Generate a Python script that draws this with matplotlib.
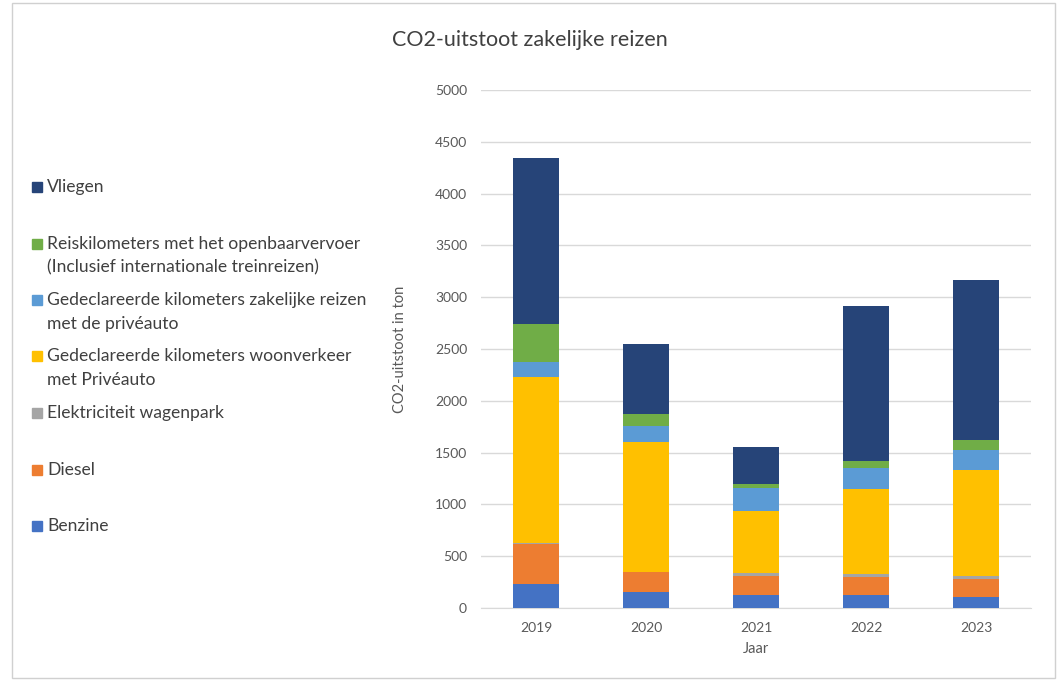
import matplotlib.pyplot as plt
from matplotlib.patches import Rectangle
import numpy as np

plt.rcParams['font.family'] = ['Lato', 'DejaVu Sans']

# data (ton CO2)
jaren = ['2019', '2020', '2021', '2022', '2023']
benzine = [232, 157, 125, 125, 103]
diesel = [390, 190, 187, 171, 177]
elektriciteit = [5, 3, 23, 32, 32]
woonverkeer = [1606, 1249, 601, 818, 1020]
zakelijk = [138, 158, 219, 208, 193]
openbaar = [370, 116, 39, 65, 97]
vliegen = [1600, 675, 357, 1496, 1544]

series = [
    ('Benzine', benzine, '#4472C4'),
    ('Diesel', diesel, '#ED7D31'),
    ('Elektriciteit wagenpark', elektriciteit, '#A5A5A5'),
    ('Gedeclareerde kilometers woonverkeer\nmet Privéauto', woonverkeer, '#FFC000'),
    ('Gedeclareerde kilometers zakelijke reizen\nmet de privéauto', zakelijk, '#5B9BD5'),
    ('Reiskilometers met het openbaarvervoer\n(Inclusief internationale treinreizen)', openbaar, '#70AD47'),
    ('Vliegen', vliegen, '#264478'),
]

W, H = 1061, 681
fig = plt.figure(figsize=(W / 100, H / 100), dpi=100)
ax = fig.add_axes([481 / W, 1 - 608 / H, (1031 - 481) / W, (608 - 90) / H])

x = np.arange(len(jaren))
bottom = np.zeros(len(jaren))
for name, vals, col in series:
    ax.bar(x, vals, 0.41, bottom=bottom, color=col, zorder=3)
    bottom += np.array(vals)

ax.set_xlim(-0.5, len(jaren) - 0.5)
ax.set_ylim(0, 5000)
ax.set_yticks(np.arange(0, 5001, 500))
ax.set_xticks(x)
ax.set_xticklabels(jaren)
ax.grid(axis='y', color='#D9D9D9', linewidth=1, zorder=0)
for s in ['top', 'right', 'left']:
    ax.spines[s].set_visible(False)
ax.spines['bottom'].set_color('#D9D9D9')
ax.tick_params(axis='both', length=0, colors='#595959', labelsize=10)
ax.tick_params(axis='y', pad=10)
ax.tick_params(axis='x', pad=10)
ax.set_ylabel('CO2-uitstoot in ton', color='#595959', fontsize=10.5, labelpad=20)
ax.set_xlabel('Jaar', color='#595959', fontsize=10.5, labelpad=6)

fig.text(530 / W, 1 - 40 / H, 'CO2-uitstoot zakelijke reizen', ha='center', va='center',
         fontsize=15.5, color='#404040')

# legend on the left, top to bottom
leg_y = [187, 256, 312, 368, 413, 470, 526]
for (name, vals, col), yy in zip(series[::-1], leg_y):
    n = name.count('\n') + 1
    ytop = yy - 12.5 * (n - 1)
    fig.patches.append(Rectangle((32 / W, 1 - (ytop + 5) / H), 10 / W, 10 / H,
                                 transform=fig.transFigure, color=col))
    fig.text(47 / W, 1 - yy / H, name, ha='left', va='center', fontsize=12.6,
             color='#404040', linespacing=1.55)

fig.patches.append(Rectangle((12 / W, 3 / H), (W - 18) / W, (H - 6) / H, transform=fig.transFigure,
                             fill=False, edgecolor='#D0D0D0', linewidth=1))

fig.savefig('out.png', dpi=100)
